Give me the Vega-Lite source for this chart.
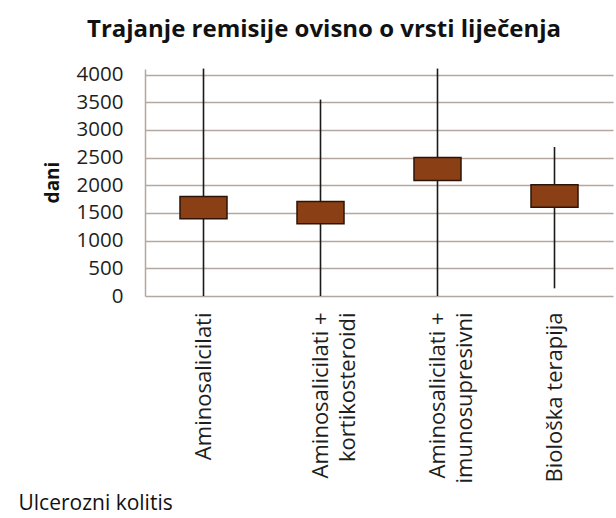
{
  "$schema": "https://vega.github.io/schema/vega-lite/v6.json",
  "width": 468,
  "height": 227,
  "autosize": "none",
  "padding": {"left": 145, "top": 69, "right": 3, "bottom": 222},
  "background": "white",
  "title": {
    "text": "Trajanje remisije ovisno o vrsti liječenja",
    "font": "Open Sans",
    "fontSize": 24,
    "fontWeight": "bold",
    "color": "#111111",
    "anchor": "middle",
    "dx": -55,
    "offset": 23
  },
  "data": {
    "values": [
      {"terapija": "Aminosalicilati", "min": 0, "low": 1394, "high": 1797, "max": 4108},
      {"terapija": "Aminosalicilati + kortikosteroidi", "min": 0, "low": 1303, "high": 1707, "max": 3548},
      {"terapija": "Aminosalicilati + imunosupresivni", "min": 0, "low": 2087, "high": 2503, "max": 4108},
      {"terapija": "Biološka terapija", "min": 139, "low": 1605, "high": 2009, "max": 2691}
    ]
  },
  "config": {
    "view": {"stroke": null},
    "axis": {
      "labelFont": "Open Sans",
      "titleFont": "Open Sans",
      "labelColor": "#1e1e1e",
      "titleColor": "#111111"
    },
    "axisY": {
      "title": "dani",
      "titleFontSize": 19,
      "titleFontWeight": "bold",
      "titleAngle": -90,
      "titleBaseline": "middle",
      "titleX": -93,
      "titleY": 113,
      "values": [0, 500, 1000, 1500, 2000, 2500, 3000, 3500, 4000],
      "format": "d",
      "labelOverlap": false,
      "labelFontSize": 20.5,
      "labelPadding": 22,
      "ticks": false,
      "domain": true,
      "domainColor": "#b3a79f",
      "domainWidth": 1.5,
      "grid": true,
      "gridColor": "#b3a79f",
      "gridWidth": 1.5
    }
  },
  "encoding": {
    "x": {
      "field": "terapija",
      "type": "nominal",
      "sort": null,
      "scale": {"paddingInner": 0, "paddingOuter": 0},
      "axis": {
        "title": "Ulcerozni kolitis",
        "titleFontSize": 21,
        "titleFontWeight": "normal",
        "titleAnchor": "start",
        "titleAlign": "left",
        "titleBaseline": "alphabetic",
        "titleX": -127,
        "titleY": 213,
        "labelAngle": -90,
        "labelFontSize": 22,
        "labelPadding": 16,
        "labelLineHeight": 27,
        "labelOverlap": false,
        "labelExpr": "split(replace(datum.label, '+ ', '+|'), '|')",
        "ticks": false,
        "domain": false,
        "grid": false
      }
    }
  },
  "layer": [
    {
      "mark": {"type": "rule", "color": "#1a1a1a", "strokeWidth": 1.6},
      "encoding": {
        "y": {
          "field": "min",
          "type": "quantitative",
          "title": "dani",
          "scale": {"domain": [0, 4100], "nice": false},
          "axis": {"values": [0, 500, 1000, 1500, 2000, 2500, 3000, 3500, 4000]}
        },
        "y2": {"field": "max"}
      }
    },
    {
      "mark": {"type": "bar", "size": 47, "fill": "#8a3f14", "stroke": "#2e1406", "strokeWidth": 1.5},
      "encoding": {
        "y": {
          "field": "low",
          "type": "quantitative",
          "title": "dani",
          "axis": {"values": [0, 500, 1000, 1500, 2000, 2500, 3000, 3500, 4000]}
        },
        "y2": {"field": "high"}
      }
    }
  ]
}
